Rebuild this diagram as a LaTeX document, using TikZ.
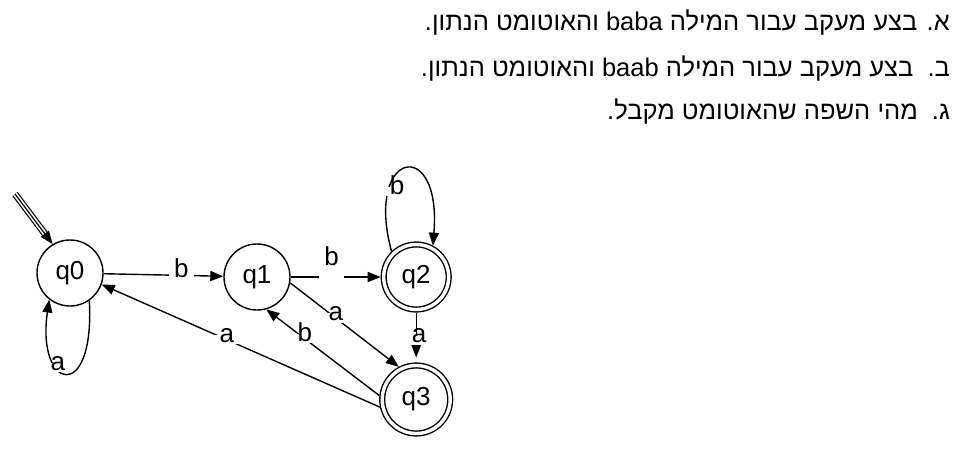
\documentclass[tikz,border=0pt]{standalone}
\usepackage{fontspec}
\setmainfont{Liberation Sans}
\newfontfamily\hebfont[Script=Hebrew]{Liberation Sans}
\TeXXeTstate=1
\usepackage{tikz}
\usetikzlibrary{positioning}
\usetikzlibrary {arrows.meta}
\tikzset{
  statenode/.style= {
    circle,
    draw,
    line width = 1.4pt,
    minimum size = 66pt,
    inner sep = 0pt,
    font = \fontsize{26}{26}\selectfont
  },
  acceptnode/.style= {
    statenode,
    double,
    double distance = 3.4pt,
    minimum size = 65pt,
    outer sep = 3pt
  },
  transition/.style= {
    line width = 1.4pt,
    -{Triangle[length=13pt,width=10pt]}
  },
  symbol/.style= {
    fill = white,
    inner xsep = 5pt,
    inner ysep = 0pt,
    text height = 0.72em,
    text depth = 0.22em,
    font = \fontsize{26}{26}\selectfont
  },
  exercise/.style= {
    anchor = base east,
    inner sep = 0pt,
    font = \hebfont\fontsize{25.5}{30}\selectfont
  }
}

\begin{document}
\begin{tikzpicture}[x=1pt,y=-1pt]
  \useasboundingbox (0,0) rectangle (963,452);

  \node[exercise] (itemA) at (950,31) {\beginR א. בצע מעקב עבור המילה \beginL baba\endL{} והאוטומט הנתון.\endR};
  \node[exercise] (itemB) at (950,76) {\beginR ב.\ \ בצע מעקב עבור המילה \beginL baab\endL{} והאוטומט הנתון.\endR};
  \node[exercise] (itemC) at (950,119) {\beginR ג.\ \ מהי השפה שהאוטומט מקבל.\endR};

  \node[statenode] (q0) at (70,273) {q0};
  \node[statenode] (q1) at (257,277) {q1};
  \node[acceptnode, right=90pt of q1] (q2) {q2};
  \node[acceptnode, minimum size=68pt, below=50pt of q2] (q3) {q3};

  \coordinate (init) at (15,194);
  \draw[line width=1.2pt, double distance=4.4pt, shorten >=11pt] (init) -- (q0.121);
  \draw[transition, line width=1.2pt] (init) -- (q0.121);

  \draw[transition] (q0) -- node[symbol, pos=0.65] {b} (q1);
  \draw[transition] (q1) -- node[symbol, anchor=base, xshift=-4pt, yshift=12pt, text depth=14pt] {b} (q2);
  \draw[transition] (q1.-10) -- node[symbol, pos=0.42] {a} (q3.118);
  \draw[transition, shorten >=5pt] (q2) -- node[symbol, pos=0.55, xshift=3pt] {a} (q3);
  \draw[transition] (q3.174) -- node[symbol, pos=0.66] {b} (q1.-74);
  \draw[transition] (q3.192) -- node[symbol, pos=0.55] {a} (q0.-20);

  \draw[transition] (q0.-55) .. controls (95,405) and (36,390) .. node[symbol, pos=0.62] {a} (q0.-128);
  \draw[transition] (q2.134) .. controls (364,150) and (442,135) .. node[symbol, pos=0.3, xshift=7pt, yshift=-7pt] {b} (q2.62);

\end{tikzpicture}
\end{document}
